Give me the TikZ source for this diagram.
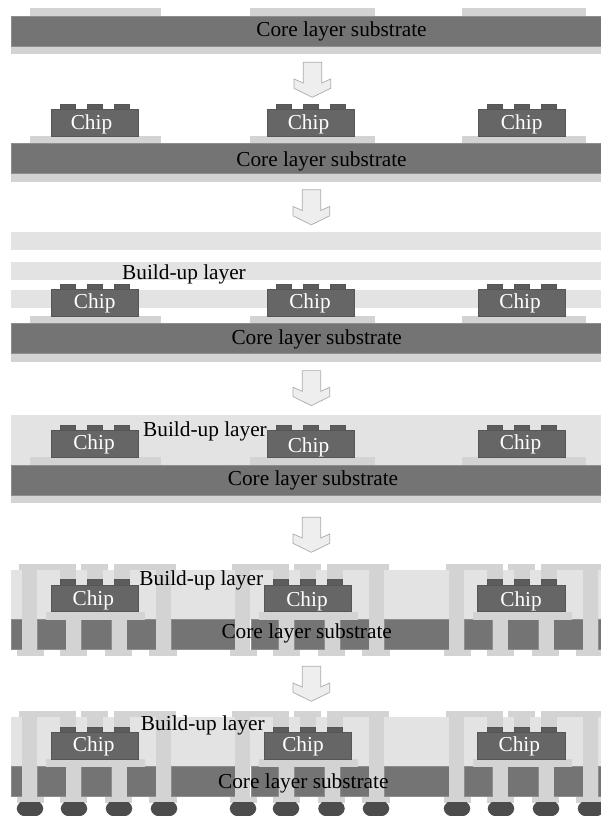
\documentclass[tikz,border=0pt]{standalone}
\usepackage{fontspec}
\setmainfont{Liberation Serif}
\definecolor{corecol}{HTML}{747474}
\definecolor{coreedge}{HTML}{8E8E8E}
\definecolor{chipcol}{HTML}{666666}
\definecolor{chipedge}{HTML}{565656}
\definecolor{bumpcol}{HTML}{5C5C5C}
\definecolor{padcol}{HTML}{D3D3D3}
\definecolor{buildcol}{HTML}{E3E3E3}
\definecolor{ballcol}{HTML}{4C4C4C}
\definecolor{arrowfill}{HTML}{EEEEEE}
\definecolor{arroweye}{HTML}{ABABAB}
\tikzset{
  corebox/.style={fill=corecol,draw=coreedge,line width=0.6pt},
  chipbox/.style={fill=chipcol,draw=chipedge,line width=0.6pt},
  bumpbox/.style={fill=bumpcol,draw=chipedge,line width=0.4pt},
  padbox/.style={fill=padcol},
  buildbox/.style={fill=buildcol},
  ballshape/.style={fill=ballcol},
  flow/.style={fill=arrowfill,draw=arroweye,line width=0.7pt,line join=miter},
  blacklabel/.style={anchor=base,inner sep=0pt,font=\fontsize{21.3}{24}\selectfont,text=black},
  chiplabel/.style={anchor=base,inner sep=0pt,font=\fontsize{21.3}{24}\selectfont,text=white},
}
% chip with its three bumps: x left, y top of chip body
\newcommand{\chipblock}[2]{%
  \path[chipbox] (#1,#2) rectangle ++(87.5,26.5);
  \foreach \bx in {9,36,63}{\path[bumpbox] ({#1+\bx},{#2-5.7}) rectangle ++(15.5,5.7);}
}
% substrate with lower layer, y top (runs to the page edge)
\newcommand{\substrate}[1]{%
  \path[padbox] (11,{#1+30}) rectangle (620,{#1+38});
  \path[corebox] (11,#1) rectangle (620,{#1+30});
}
% three pads, y top
\newcommand{\padrow}[1]{%
  \path[padbox] (30,#1) rectangle (161,{#1+7.5});
  \path[padbox] (250,#1) rectangle (375,{#1+7.5});
  \path[padbox] (462,#1) rectangle (586,{#1+7.5});
}
% block arrow: dx, dy
\newcommand{\flowarrow}[2]{%
  \begin{scope}[shift={(#1,#2)}]
  \path[flow] (303.3,62.3) -- (321.7,62.3) -- (321.7,83) -- (330.7,79) -- (330.7,88.3)
    -- (312.3,97.3) -- (294,88.3) -- (294,79) -- (303.3,83) -- cycle;
  \end{scope}
}
% build-up layer, cut core, vias, traces; y = top of build-up layer
\newcommand{\viarow}[1]{%
  \path[buildbox] (11,#1) rectangle (620,{#1+49.5});
  \foreach \a/\b in {11/22.3,37.3/66,81/111.7,126.7/156,171/235.3,251/278.7,294.7/324.3,340/369,
     384.3/449,464/492.3,507.7/538,553.3/583,598/620}{
    \path[corebox] (\a,{#1+49.5}) rectangle (\b,{#1+79.5});
  }
  \foreach \d in {0,213,427}{
    \begin{scope}[xshift=\d]
    % top traces
    \path[padbox] (19,{#1-6}) rectangle (75.7,#1);
    \path[padbox] (60,#1) rectangle (75.7,{#1+10});
    \path[padbox] (81,{#1-6}) rectangle (108,#1);
    \path[padbox] (87,#1) rectangle (102.7,{#1+10});
    \path[padbox] (114,{#1-6}) rectangle (176,#1);
    \path[padbox] (114,#1) rectangle (130,{#1+10});
    % pillars
    \path[padbox] (22.3,#1) rectangle (37.3,{#1+79.5});
    \path[padbox] (156,#1) rectangle (171,{#1+79.5});
    % pad under chip and its vias
    \path[padbox] (45.7,{#1+41.5}) rectangle (145,{#1+49.5});
    \path[padbox] (66,{#1+49.5}) rectangle (81,{#1+79.5});
    \path[padbox] (111.7,{#1+49.5}) rectangle (126.7,{#1+79.5});
    % bottom pads
    \path[padbox] (16.7,{#1+79.5}) rectangle (44,{#1+85.7});
    \path[padbox] (60,{#1+79.5}) rectangle (87,{#1+85.7});
    \path[padbox] (105,{#1+79.5}) rectangle (132,{#1+85.7});
    \path[padbox] (149,{#1+79.5}) rectangle (177,{#1+85.7});
    \end{scope}
  }
}
\begin{document}
\begin{tikzpicture}[x=1pt,y=-1pt]
\useasboundingbox (0,0) rectangle (600,816);
\fill[white] (0,0) rectangle (600,816);

% --- row 1
\padrow{8.5}
\substrate{16}
\node[blacklabel] (core1) at (341.5,36.3) {Core layer substrate};
\flowarrow{0}{0}

% --- row 2
\padrow{136}
\substrate{143.5}
\chipblock{51}{109.5}
\chipblock{267}{109.5}
\chipblock{478}{109.5}
\node[chiplabel] (chip2a) at (91.5,129.3) {Chip};
\node[chiplabel] (chip2b) at (308.5,129.3) {Chip};
\node[chiplabel] (chip2c) at (521.7,129.3) {Chip};
\node[blacklabel] (core2) at (321.5,166.3) {Core layer substrate};
\flowarrow{-1}{127.5}

% --- row 3
\path[buildbox] (11,232.3) rectangle (620,250);
\path[buildbox] (11,262) rectangle (620,280);
\path[buildbox] (11,290) rectangle (620,308);
\padrow{316}
\substrate{323.5}
\chipblock{51}{289.5}
\chipblock{267}{289.5}
\chipblock{478}{289.5}
\node[chiplabel] (chip3a) at (94.7,308.3) {Chip};
\node[chiplabel] (chip3b) at (310,308.3) {Chip};
\node[chiplabel] (chip3c) at (520,308.3) {Chip};
\node[blacklabel] (build3) at (184,279.3) {Build-up layer};
\node[blacklabel] (core3) at (316.7,344.6) {Core layer substrate};
\flowarrow{-1}{308.3}

% --- row 4
\path[buildbox] (11,415) rectangle (620,465);
\padrow{457}
\substrate{465}
\chipblock{51}{430.5}
\chipblock{267}{430.5}
\chipblock{478}{430.5}
\node[chiplabel] (chip4a) at (94,449) {Chip};
\node[chiplabel] (chip4b) at (308.5,452) {Chip};
\node[chiplabel] (chip4c) at (520.5,449) {Chip};
\node[blacklabel] (build4) at (205,436.7) {Build-up layer};
\node[blacklabel] (core4) at (313,485.6) {Core layer substrate};
\flowarrow{-1}{455}

% --- row 5
\viarow{570}
\chipblock{51}{585}
\chipblock{264}{585}
\chipblock{477.7}{585}
\node[chiplabel] (chip5a) at (93.3,605) {Chip};
\node[chiplabel] (chip5b) at (307,606.5) {Chip};
\node[chiplabel] (chip5c) at (521,606) {Chip};
\node[blacklabel] (build5) at (201.3,585) {Build-up layer};
\node[blacklabel] (core5) at (306.7,638.3) {Core layer substrate};
\flowarrow{-1}{604}

% --- row 6
\viarow{717}
\begin{scope}
\clip (0,802.7) rectangle (620,816);
\foreach \bxc in {30,74,119,164,243,286,331.5,376,457,501,546,591}{
  \path[ballshape] (\bxc,808.5) ellipse [x radius=13.3pt,y radius=9pt];
}
\end{scope}
\chipblock{51}{732.5}
\chipblock{264}{732.5}
\chipblock{477.7}{732.5}
\node[chiplabel] (chip6a) at (93.7,751) {Chip};
\node[chiplabel] (chip6b) at (303,751) {Chip};
\node[chiplabel] (chip6c) at (519.3,751) {Chip};
\node[blacklabel] (build6) at (202.8,730) {Build-up layer};
\node[blacklabel] (core6) at (303.3,788.3) {Core layer substrate};
\end{tikzpicture}
\end{document}
